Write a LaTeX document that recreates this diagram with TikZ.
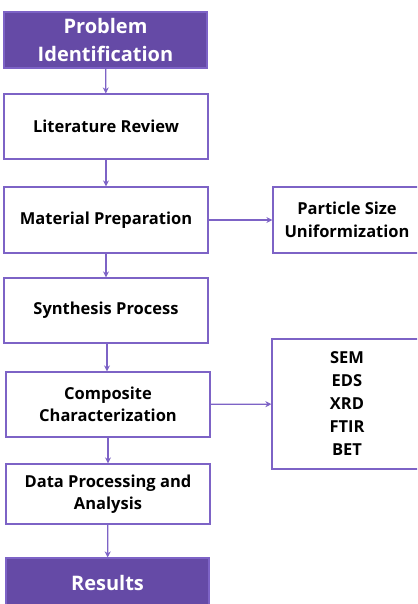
\documentclass[tikz,border=0pt]{standalone}
\usepackage{fontspec}
\setmainfont{Open Sans}
\usetikzlibrary{arrows.meta}
\definecolor{pfill}{HTML}{654AA6}
\definecolor{pline}{HTML}{7D63C6}
\begin{document}
\begin{tikzpicture}[x=1pt,y=-1pt,
  box/.style={draw=pline,line width=1.2pt,fill=white,font=\bfseries\fontsize{16.5}{22.5}\selectfont,align=center,inner sep=0pt},
  dark/.style={box,fill=pfill,text=white,font=\bfseries\fontsize{20}{28}\selectfont},
  conn/.style={draw=pline,line width=1.2pt,-{Stealth[length=6pt,width=6pt]}}]
\clip (0,0) rectangle (417,604);
\fill[white] (0,0) rectangle (417,604);
\node[dark,minimum width=203pt,minimum height=56pt] (prob) at (105.5,40) {Problem\\Identification};
\node[box,minimum width=204pt,minimum height=65pt] (lit) at (106,126.5) {Literature Review};
\node[box,minimum width=204pt,minimum height=66pt] (mat) at (106,220) {Material Preparation};
\node[box,minimum width=204pt,minimum height=65pt] (syn) at (106,310.5) {Synthesis Process};
\node[box,minimum width=204pt,minimum height=65pt] (comp) at (108,404.5) {Composite\\Characterization};
\node[box,minimum width=204pt,minimum height=60pt] (data) at (108,494) {Data Processing and\\Analysis};
\node[dark,minimum width=203pt,minimum height=60pt] (res) at (107.5,588) {};
\node[text=white,font=\bfseries\fontsize{20}{28}\selectfont] (restext) at (107.5,583) {Results};
\node[box,minimum width=148pt,minimum height=66pt] (part) at (347,220) {Particle Size\\Uniformization};
\node[box,minimum width=150pt,minimum height=130pt,font=\bfseries\fontsize{16.5}{23}\selectfont] (sem) at (347,404) {SEM\\EDS\\XRD\\FTIR\\BET};
\draw[conn] (prob) -- (lit);
\draw[conn] (lit) -- (mat);
\draw[conn] (mat) -- (syn);
\draw[conn] (syn.south) ++(1,0) coordinate (s1) -- (s1 |- comp.north);
\draw[conn] (comp) -- (data);
\draw[conn] (data) -- (res);
\draw[conn] (mat) -- (part);
\draw[conn] (comp) -- (sem);
\end{tikzpicture}
\end{document}
